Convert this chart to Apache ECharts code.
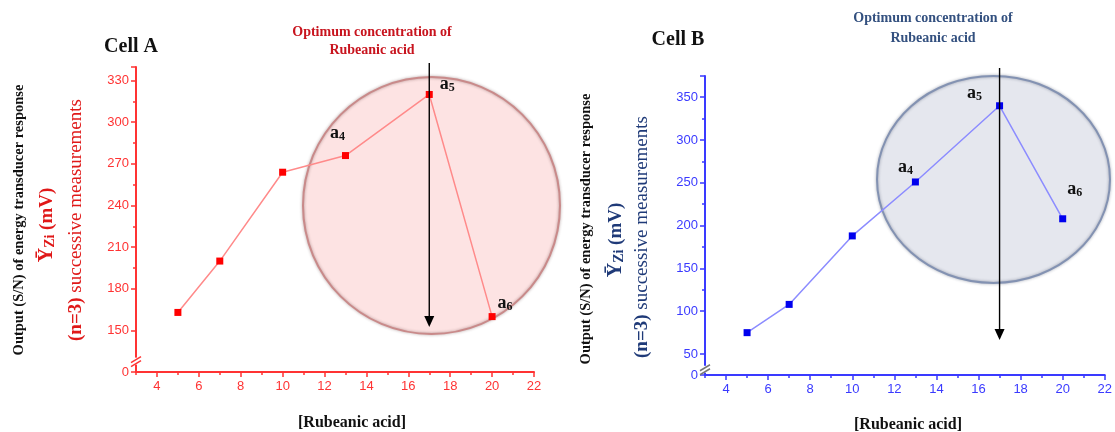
<!DOCTYPE html>
<html>
<head>
<meta charset="utf-8">
<script src="https://cdn.jsdelivr.net/npm/echarts@6/dist/echarts.min.js"></script>
<style>
  html, body { margin: 0; padding: 0; background: #fff; }
  #main { width: 1115px; height: 432px; }
</style>
</head>
<body>
<div id="main"></div>
<script>
// Rubeanic acid concentration vs. transducer output, two cells
const concentrations = [5, 7, 10, 13, 17, 20];
const cellA = [163, 200, 264, 276, 320, 160];
const cellB = [75, 108, 188, 251, 340, 208];
const pointTags = ['', '', '', '4', '5', '6'];
const xMajorTicks = [4, 6, 8, 10, 12, 14, 16, 18, 20, 22];
const xMinorTicks = [3, 5, 7, 9, 11, 13, 15, 17, 19, 21];
const optimumConcentration = 17;

const SERIF = '"Liberation Serif", "DejaVu Serif", serif';
const SANS = '"Liberation Sans", Arial, sans-serif';
const RED = '#ff3333';
const BLUE = '#3a3aff';

const chart = echarts.init(document.getElementById('main'), null, { renderer: 'canvas' });

function pointData(values, offsets) {
  return concentrations.map((x, i) => {
    const item = { value: [x, values[i]] };
    const tag = pointTags[i];
    if (tag) {
      item.label = { show: true, formatter: '{a|a}{s|' + tag + '}', offset: offsets[tag] };
    }
    return item;
  });
}

function xAxes(gridIndex, color) {
  return [
    {
      type: 'value', gridIndex, position: 'bottom', min: 3, max: 22,
      axisLine: { show: true, lineStyle: { color, width: 2 } },
      axisTick: { show: true, length: 5, customValues: xMajorTicks, lineStyle: { color, width: 1.5 } },
      axisLabel: { customValues: xMajorTicks, color, fontFamily: SANS, fontSize: 13, margin: 8 },
      splitLine: { show: false }
    },
    {
      type: 'value', gridIndex, position: 'bottom', offset: 0, min: 3, max: 22,
      axisLine: { show: false },
      axisTick: { show: true, length: 3, customValues: xMinorTicks, lineStyle: { color, width: 1.5 } },
      axisLabel: { show: false },
      splitLine: { show: false }
    }
  ];
}

function yAxis(gridIndex, color, max, interval, brk) {
  return {
    type: 'value', gridIndex, min: 0, max, interval,
    breaks: [brk],
    breakArea: { show: false },
    axisLine: { show: true, lineStyle: { color, width: 2 } },
    axisTick: { show: true, length: 5, lineStyle: { color, width: 1.5 } },
    minorTick: { show: true, splitNumber: 2, length: 3, lineStyle: { color, width: 1.5 } },
    axisLabel: { color, fontFamily: SANS, fontSize: 13, margin: 7, showMaxLabel: false },
    splitLine: { show: false }
  };
}

const labelRich = {
  a: { fontFamily: SERIF, fontWeight: 'bold', fontSize: 18, color: '#111' },
  s: { fontFamily: SERIF, fontWeight: 'bold', fontSize: 12, color: '#111', padding: [7, 0, 0, 0] }
};

const breakA = { start: 0, end: 150, gap: '13.6%' };
const breakB = { start: 0, end: 50, gap: '7%' };

chart.setOption({
  animation: false,
  backgroundColor: '#fff',
  grid: [
    { left: 136, top: 66.7, width: 398, height: 305.3 },
    { left: 705, top: 75.8, width: 401, height: 299.2 }
  ],
  xAxis: [...xAxes(0, RED), ...xAxes(1, BLUE)],
  yAxis: [
    yAxis(0, RED, 340, 30, breakA),
    yAxis(1, BLUE, 375, 50, breakB)
  ],
  series: [
    {
      type: 'line', xAxisIndex: 0, yAxisIndex: 0, z: 3,
      data: pointData(cellA, { '4': [-8, -22], '5': [18, -10], '6': [13, -13] }),
      symbol: 'rect', symbolSize: 7,
      itemStyle: { color: '#ff0000' },
      lineStyle: { color: '#ff8a8a', width: 1.5 },
      label: { show: false, position: 'inside', align: 'center', verticalAlign: 'middle', rich: labelRich }
    },
    {
      type: 'line', xAxisIndex: 2, yAxisIndex: 1, z: 3,
      data: pointData(cellB, { '4': [-10, -15], '5': [-25, -12], '6': [12, -29] }),
      symbol: 'rect', symbolSize: 7,
      itemStyle: { color: '#0000ee' },
      lineStyle: { color: '#8c8cff', width: 1.5 },
      label: { show: false, position: 'inside', align: 'center', verticalAlign: 'middle', rich: labelRich }
    }
  ]
});

// Annotations: highlighted region, optimum arrow, titles, axis names, break marks
function arrow(x, yTop, yTip) {
  return [
    { type: 'line', z: 10, shape: { x1: x, y1: yTop, x2: x, y2: yTip - 8 }, style: { stroke: '#000', lineWidth: 1.4 } },
    { type: 'polygon', z: 10, shape: { points: [[x - 5, yTip - 11], [x + 5, yTip - 11], [x, yTip]] }, style: { fill: '#000' } }
  ];
}

// keep the axis line continuous across the collapsed range, then mark the break
function breakMark(x, yLow, yHigh, color, markColor) {
  const y = yLow - (yLow - yHigh) * 0.25;
  return [
    { type: 'line', z: 19, shape: { x1: x, y1: yLow, x2: x, y2: yHigh }, style: { stroke: color, lineWidth: 2 } },
    { type: 'rect', z: 20, shape: { x: x - 3, y: y - 4, width: 6, height: 7 }, style: { fill: '#fff' } },
    { type: 'line', z: 21, shape: { x1: x - 5, y1: y + 1, x2: x + 5, y2: y - 5 }, style: { stroke: markColor, lineWidth: 1.5 } },
    { type: 'line', z: 21, shape: { x1: x - 5, y1: y + 5, x2: x + 5, y2: y - 1 }, style: { stroke: markColor, lineWidth: 1.5 } }
  ];
}

function text(x, y, str, font, fill) {
  return {
    type: 'text', z: 15, x, y,
    style: { text: str, font, fill, align: 'center', verticalAlign: 'middle' }
  };
}

function vtext(x, y, richText, rich) {
  return {
    type: 'text', z: 15, x, y, rotation: Math.PI / 2,
    style: { text: richText, rich, align: 'center', verticalAlign: 'middle' }
  };
}

function axisTitleRich(color) {
  return {
    k: { fontFamily: SERIF, fontWeight: 'bold', fontSize: 14.5, fill: '#111' },
    y: { fontFamily: SERIF, fontWeight: 'bold', fontSize: 20, fill: color },
    z: { fontFamily: SERIF, fontWeight: 'bold', fontSize: 14, fill: color, padding: [7, 0, 0, 0] },
    b: { fontFamily: SERIF, fontWeight: 'bold', fontSize: 19, fill: color },
    n: { fontFamily: SERIF, fontSize: 19, fill: color }
  };
}

function decorate() {
  const xA = chart.convertToPixel({ xAxisIndex: 0 }, optimumConcentration);
  const xB = chart.convertToPixel({ xAxisIndex: 2 }, optimumConcentration);
  const leftA = chart.convertToPixel({ xAxisIndex: 0 }, 3);
  const leftB = chart.convertToPixel({ xAxisIndex: 2 }, 3);
  const lowA = chart.convertToPixel({ yAxisIndex: 0 }, breakA.start);
  const highA = chart.convertToPixel({ yAxisIndex: 0 }, breakA.end);
  const lowB = chart.convertToPixel({ yAxisIndex: 1 }, breakB.start);
  const highB = chart.convertToPixel({ yAxisIndex: 1 }, breakB.end);
  const redTitle = '#c8141e';
  const blueTitle = '#33507f';
  const navy = '#1f3a78';
  const redName = '#e01818';

  const elements = [
    { type: 'ellipse', z: 1, shape: { cx: 431.5, cy: 205.5, rx: 128.5, ry: 128.5 },
      style: { fill: '#fde3e3', stroke: 'none' } },
    { type: 'ellipse', z: 1, shape: { cx: 431.5, cy: 205.5, rx: 128.5, ry: 128.5 },
      style: { fill: 'none', stroke: '#c98a8a', lineWidth: 2, shadowBlur: 3, shadowColor: 'rgba(80,40,40,0.45)' } },
    { type: 'ellipse', z: 1, shape: { cx: 993.5, cy: 179.4, rx: 116.5, ry: 103.5 },
      style: { fill: '#e5e7ee', stroke: 'none' } },
    { type: 'ellipse', z: 1, shape: { cx: 993.5, cy: 179.4, rx: 116.5, ry: 103.5 },
      style: { fill: 'none', stroke: '#8392b2', lineWidth: 2, shadowBlur: 3, shadowColor: 'rgba(40,50,80,0.45)' } },
    ...arrow(xA, 63, 327),
    ...arrow(xB, 68, 340),
    ...breakMark(leftA, lowA, highA, RED, RED),
    ...breakMark(leftB, lowB, highB, BLUE, '#777'),

    text(131, 47, 'Cell A', 'bold 20px ' + SERIF, '#111'),
    text(372, 32, 'Optimum concentration of', 'bold 14px ' + SERIF, redTitle),
    text(372, 50, 'Rubeanic acid', 'bold 14px ' + SERIF, redTitle),
    text(678, 40, 'Cell B', 'bold 20px ' + SERIF, '#111'),
    text(933, 18, 'Optimum concentration of', 'bold 14px ' + SERIF, blueTitle),
    text(933, 38, 'Rubeanic acid', 'bold 14px ' + SERIF, blueTitle),

    text(352, 423, '[Rubeanic acid]', 'bold 16px ' + SERIF, '#111'),
    text(908, 425, '[Rubeanic acid]', 'bold 16px ' + SERIF, '#111'),

    vtext(19, 220, '{k|Output (S/N) of energy transducer response}', axisTitleRich(redName)),
    vtext(47, 225, '{y|\u0232}{z|Zi}{b| (mV)}', axisTitleRich(redName)),
    vtext(76, 220, '{b|(n=3)}{n| successive measurements}', axisTitleRich(redName)),
    vtext(586, 229, '{k|Output (S/N) of energy transducer response}', axisTitleRich(navy)),
    vtext(616, 240, '{y|\u0232}{z|Zi}{b| (mV)}', axisTitleRich(navy)),
    vtext(642, 237, '{b|(n=3)}{n| successive measurements}', axisTitleRich(navy))
  ];
  chart.setOption({ graphic: { elements } });
}
decorate();
</script>
</body>
</html>
